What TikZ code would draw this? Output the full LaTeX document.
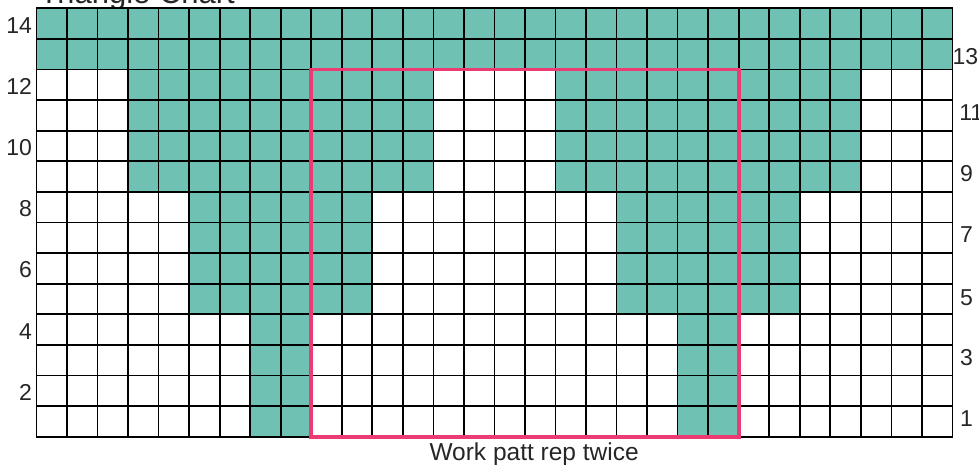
\documentclass[tikz,border=0pt]{standalone}
\usepackage{fontspec}
\setmainfont{Liberation Sans}
\usepackage{xcolor}
\usetikzlibrary{positioning}

\definecolor{chartteal}{RGB}{111,193,180}
\definecolor{reppink}{RGB}{236,58,115}

\begin{document}
\begin{tikzpicture}[
  x=1pt, y=-1pt,
  gridline/.style={black, line width=1.7pt},
  cellfill/.style={fill=chartteal},
  repbox/.style={draw=reppink, line width=3.6pt},
  rowlabel/.style={font=\fontsize{23}{26}\selectfont, text=black!85, inner sep=0pt},
  caption/.style={font=\fontsize{24.5}{28}\selectfont, text=black!85, inner sep=0pt},
  titletext/.style={font=\fontsize{31}{36}\selectfont, text=black!85, inner sep=0pt},
]
\useasboundingbox (0,0) rectangle (979,465);

% --- Title (runs off the top edge) ---
\node[titletext, anchor=base west] (title) at (39.4,3.3) {Triangle Chart};

% --- Chart: 30 stitches x 14 rows, one unit per cell ---
\begin{scope}[shift={(36.5,8.3)}, x=30.53pt, y=-30.6pt]

  % --- Coloured cells, band by band (top to bottom) ---
  \fill[cellfill] (0,0) rectangle (30,2);
  \foreach \a/\b in {3/13, 17/27}{
    \fill[cellfill] (\a,2) rectangle (\b,6);
  }
  \foreach \a/\b in {5/11, 19/25}{
    \fill[cellfill] (\a,6) rectangle (\b,10);
  }
  \foreach \a/\b in {7/9, 21/23}{
    \fill[cellfill] (\a,10) rectangle (\b,14);
  }

  % --- Grid lines ---
  \foreach \i in {1,...,29}{
    \draw[gridline] (\i,0) -- (\i,14);
  }
  \foreach \j in {1,...,13}{
    \draw[gridline] (0,\j) -- (30,\j);
  }
  \draw[gridline] (0,0) rectangle (30,14);

  % --- Pattern repeat box ---
  \draw[repbox] (9,2) rectangle (23,14);
  \coordinate (repbase) at (16.3,14.78);

  % --- Row numbers: even on the left, odd on the right ---
  \foreach \r in {2,4,...,14}{
    \node[rowlabel, anchor=east] (left\r) at (-0.14,{14-\r+0.55}) {\r};
  }
  \foreach \r/\xo/\yo in {1/30.25/0.41, 3/30.25/0.41, 5/30.25/0.45, 7/30.25/0.41,
                          9/30.25/0.41, 11/30.22/0.41, 13/30.0/0.58}{
    \node[rowlabel, anchor=west] (right\r) at (\xo,{14-\r+\yo}) {\r};
  }
\end{scope}

% --- Caption under the repeat ---
\node[caption, anchor=base] (reptext) at (repbase) {Work patt rep twice};

\end{tikzpicture}
\end{document}
